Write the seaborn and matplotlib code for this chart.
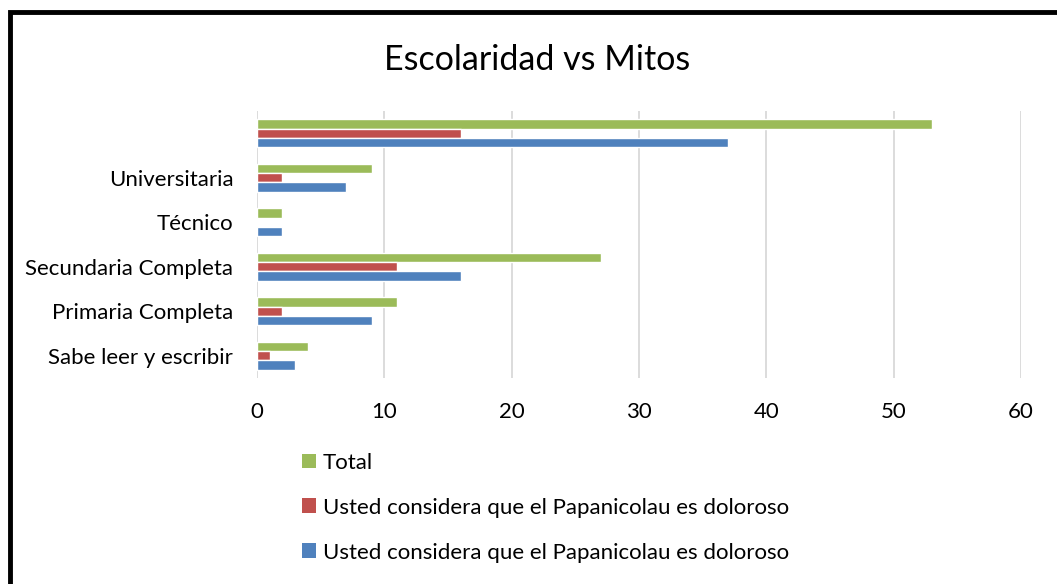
import pandas as pd
import matplotlib
matplotlib.use('Agg')
import matplotlib.pyplot as plt
import seaborn as sns
from matplotlib.patches import Patch, Rectangle

# datos
escolaridad = ['', 'Universitaria', 'Técnico', 'Secundaria Completa',
               'Primaria Completa', 'Sabe leer y escribir']
total = [53, 9, 2, 27, 11, 4]
doloroso_si = [16, 2, 0, 11, 2, 1]
doloroso_no = [37, 7, 2, 16, 9, 3]
series = ['Total', 'Usted considera que el Papanicolau es doloroso',
          'Usted considera que el Papanicolau es doloroso']
colores = ['#9BBB59', '#C0504D', '#4F81BD']

sns.set_style('white')
plt.rcParams['font.family'] = ['Lato', 'DejaVu Sans']
plt.rcParams['text.color'] = 'black'

claves = ['s0', 's1', 's2']
df = pd.DataFrame({
    'escolaridad': escolaridad * 3,
    'valor': total + doloroso_si + doloroso_no,
    'serie': [claves[0]] * 6 + [claves[1]] * 6 + [claves[2]] * 6,
})

fig = plt.figure(figsize=(10.57, 5.84), dpi=100)
ax = fig.add_axes([0.2431, 0.3527, 0.7228, 0.4572])

sns.barplot(data=df, x='valor', y='escolaridad', hue='serie', hue_order=claves,
            order=escolaridad, palette=colores, orient='h', width=0.63,
            saturation=1, legend=False, ax=ax)

ax.set_xlim(0, 60)
ax.set_xticks(range(0, 61, 10))
ax.set_xlabel('')
ax.set_ylabel('')
ax.grid(axis='x', color='#D9D9D9', linewidth=1.3)
ax.set_axisbelow(True)
for s in ax.spines.values():
    s.set_visible(False)
ax.tick_params(axis='both', length=0, labelsize=16, colors='black')
ax.tick_params(axis='x', pad=17)
ax.tick_params(axis='y', pad=17)

fig.text(0.508, 0.898, 'Escolaridad vs Mitos', ha='center', va='center',
         fontsize=24.5, color='black')

handles = [Patch(facecolor=c, edgecolor='none') for c in colores]
fig.legend(handles, series, loc='upper left', bbox_to_anchor=(0.277, 0.24),
           frameon=False, fontsize=16, handlelength=0.65, handleheight=0.65,
           handletextpad=0.3, labelspacing=1.12, borderaxespad=0)

# marco negro (solo se ve arriba y a la izquierda)
fig.patches.append(Rectangle((0.0095, -0.05), 1.05, 1.03, transform=fig.transFigure,
                             fill=False, edgecolor='black', linewidth=3.5))

fig.savefig('out.png', dpi=100)
